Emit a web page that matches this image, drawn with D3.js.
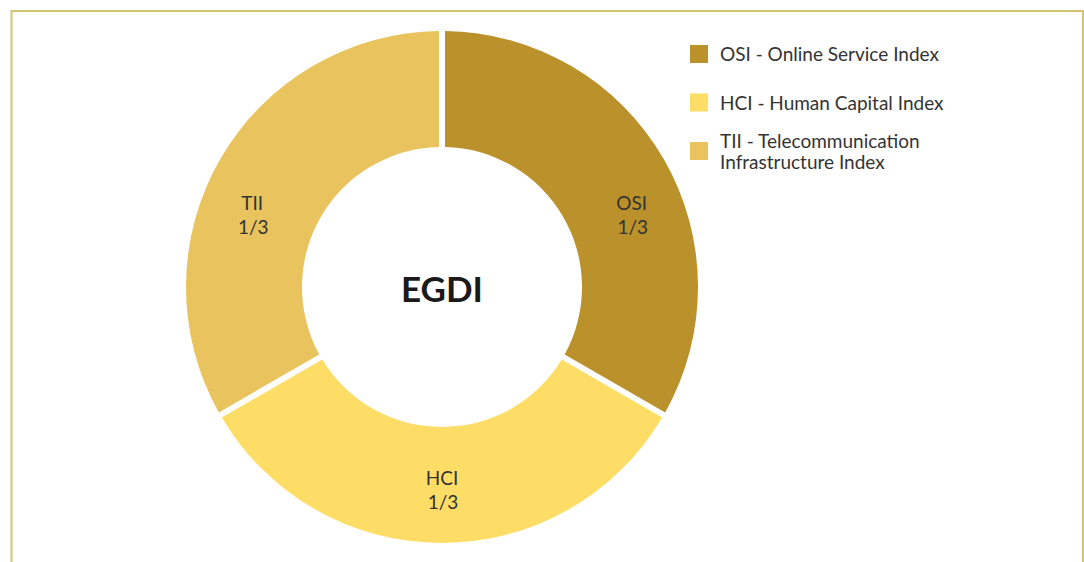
<!DOCTYPE html>
<html>
<head>
<meta charset="utf-8">
<script src="https://cdn.jsdelivr.net/npm/d3@7"></script>
<style>
  body { margin: 0; background: #fff; }
  text { font-family: Lato, "Noto Sans", sans-serif; }
</style>
</head>
<body>
<div id="chart"></div>
<script>
/**
 * DATA
 * */
const categories = ["OSI", "HCI", "TII"];
const weights = [1, 1, 1];
const sliceLabels = ["1/3", "1/3", "1/3"];
const legendLabels = [
  ["OSI - Online Service Index"],
  ["HCI - Human Capital Index"],
  ["TII - Telecommunication", "Infrastructure Index"]
];
const colors = ["#bb912c", "#fedd67", "#e8c35e"];
const centerTitle = "EGDI";

/**
 * CONSTANTS
 * */
const width = 1084,
  height = 562,
  cx = 442, cy = 287,
  outerR = 256, innerR = 140;

const svg = d3.select("#chart")
  .append("svg")
  .attr("width", width)
  .attr("height", height);

// frame (top, left, right lines)
svg.append("path")
  .attr("d", `M11.5,${height} V11 H1083 V${height}`)
  .attr("fill", "none")
  .attr("stroke", "#d6c36f")
  .attr("stroke-width", 2);

const data = categories.map((c, i) => ({ name: c, value: weights[i], label: sliceLabels[i], color: colors[i] }));

const pie = d3.pie()
  .value(d => d.value)
  .sort(null);

const arcs = pie(data);

const arc = d3.arc()
  .innerRadius(innerR)
  .outerRadius(outerR)
  .padAngle(6 / 256)
  .padRadius(256);

const g = svg.append("g")
  .attr("transform", `translate(${cx},${cy})`);

g.selectAll("path")
  .data(arcs)
  .join("path")
  .attr("d", arc)
  .attr("fill", d => d.data.color);

// labels: pulled a bit toward the horizontal on the side slices
const labelR = 203;
const labels = g.selectAll("text.slice")
  .data(arcs)
  .join("text")
  .attr("class", "slice")
  .attr("text-anchor", "middle")
  .attr("font-size", 19)
  .attr("fill", "#333")
  .attr("transform", d => {
    let a = (d.startAngle + d.endAngle) / 2;
    if (a < Math.PI - 0.01) a += 0.16;
    else if (a > Math.PI + 0.01) a -= 0.16;
    return `translate(${labelR * Math.sin(a)},${-labelR * Math.cos(a)})`;
  });

labels.append("tspan")
  .attr("x", 0)
  .attr("y", -5)
  .text(d => d.data.name);
labels.append("tspan")
  .attr("x", 1)
  .attr("y", 19)
  .text(d => d.data.label);

g.append("text")
  .attr("text-anchor", "middle")
  .attr("y", 15)
  .attr("font-size", 35)
  .attr("font-weight", "bold")
  .attr("fill", "#1a1a1a")
  .text(centerTitle);

// legend
const legend = svg.append("g")
  .attr("transform", "translate(690,45)");

const items = legend.selectAll("g")
  .data(legendLabels)
  .join("g")
  .attr("transform", (d, i) => `translate(0,${i * 48.5})`);

items.append("rect")
  .attr("width", 18)
  .attr("height", 18)
  .attr("fill", (d, i) => colors[i]);

items.append("text")
  .attr("font-size", 19)
  .attr("fill", "#333")
  .selectAll("tspan")
  .data(d => d)
  .join("tspan")
  .attr("x", 30)
  .attr("y", (d, i, n) => (n.length > 1 ? 6 : 16) + i * 21)
  .text(d => d);
</script>
</body>
</html>
